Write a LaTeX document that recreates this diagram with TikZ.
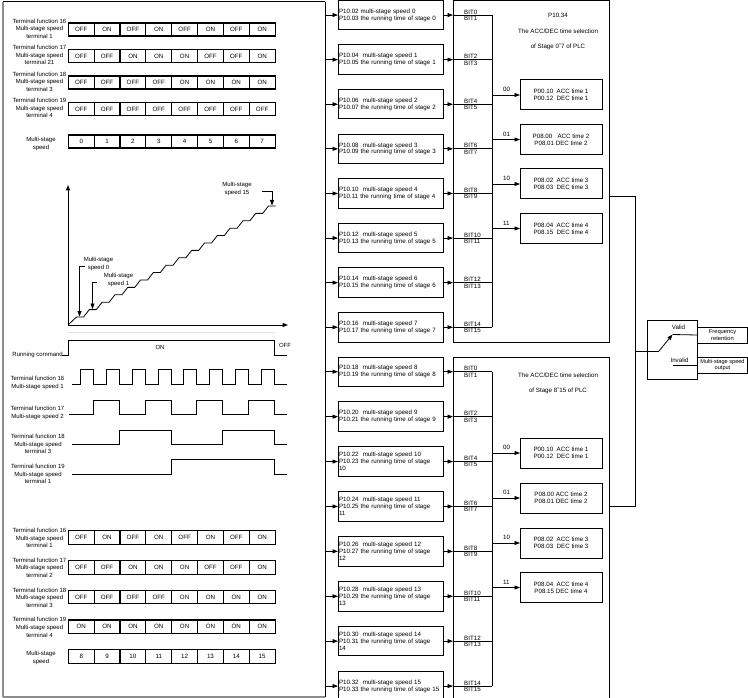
\documentclass[tikz,border=0pt]{standalone}
\usepackage{fontspec}
\setmainfont{Liberation Sans}
\usetikzlibrary{arrows.meta}
\newcommand\mytabrow[4][13pt]{\foreach \v [count=\j from 0] in {#4} {\node[cell,minimum height=#1] (#2-\j) at ({68.3+25.85*\j},#3) {\v};}}
\begin{document}
\begin{tikzpicture}[x=1pt,y=-1pt,
  font=\fontsize{6.2}{6.9}\selectfont,
  >={Triangle[length=5.5pt,width=4pt]},
  wire/.style={line width=0.8pt},
  cell/.style={draw,line width=1.1pt,minimum width=25.85pt,inner sep=0pt,outer sep=0pt,anchor=north west},
  lab/.style={align=center,inner sep=0pt,font=\fontsize{6}{7.6}\selectfont},
  pbox/.style={draw,line width=1pt,minimum height=29.5pt,text width=103pt,inner xsep=1pt,inner ysep=0pt,outer sep=0pt,align=left,anchor=north west},
  abox/.style={draw,line width=1pt,minimum width=82pt,minimum height=30pt,align=center,inner sep=0pt,outer sep=0pt,anchor=north west},
  bigbox/.style={draw,line width=1pt,inner sep=0pt,outer sep=0pt,anchor=north west},
  txt/.style={inner sep=0pt},
  frame/.style={draw=black!45,line width=1.2pt},
]
\useasboundingbox (0,0) rectangle (748,698);

% ---------- frame of left panel and bus ----------
\coordinate (fa) at (3,697);
\coordinate (fb) at (3,2);
\coordinate (fc) at (325,2);
\coordinate (fd) at (325,697);
\draw[frame] (fa) -- (fb);
\draw[frame] (fa) -- (fd);
\draw[line width=1pt] (fb) -- (fc);
\draw[line width=1pt] (fc) -- (fd);
\coordinate (busx) at (325,0);
\coordinate (gx) at (453,0);
\coordinate (hx) at (492,0);
\coordinate (bx) at (464,0);
\coordinate (lx) at (503,0);

% ---------- top table ----------
\mytabrow{ta}{23}{OFF,ON,OFF,ON,OFF,ON,OFF,ON}
\mytabrow{tb}{49.5}{OFF,OFF,ON,ON,ON,OFF,OFF,ON}
\mytabrow{tc}{76}{OFF,OFF,OFF,OFF,ON,ON,ON,ON}
\mytabrow{td}{102.5}{OFF,OFF,OFF,OFF,OFF,OFF,OFF,OFF}
\mytabrow{te}{135}{0,1,2,3,4,5,6,7}
\node[lab] (la) at (39.5,28.5) {Terminal function 16\\Multi-stage speed\\terminal 1};
\node[lab] (lb) at (39.5,55) {Terminal function 17\\Multi-stage speed\\terminal 21};
\node[lab] (lc) at (39.5,81.5) {Terminal function 18\\Multi-stage speed\\terminal 3};
\node[lab] (ld) at (39.5,108) {Terminal function 19\\Multi-stage speed\\terminal 4};
\node[lab] (le) at (41,144) {Multi-stage\\speed};

% ---------- staircase ----------
\coordinate (org) at (68,325);
\coordinate (ytop) at (68,185);
\coordinate (xend) at (288,325);
\draw[line width=1pt,->] (org) -- (ytop);
\draw[line width=1pt,->] (org) -- (xend);
\draw[black!12,line width=0.8pt] (68,332) -- (275,332);
\draw[line width=0.8pt] (org) \foreach \k in {0,...,15} { -- ({76.5+12.8*\k},{317-7.4*\k}) -- ({83.5+12.8*\k},{317-7.4*\k}) };
\node[lab] (s15) at (237,189) {Multi-stage\\speed 15};
\coordinate (s15a) at (262,191);
\coordinate (s15b) at (272,191);
\coordinate (s15c) at (272,205.5);
\draw[wire,->] (s15a) -- (s15b) -- (s15c);
\node[lab] (s0) at (98.5,264) {Multi-stage\\speed 0};
\coordinate (s0a) at (84.5,266);
\coordinate (s0b) at (79.5,266);
\coordinate (s0c) at (79.5,316.5);
\draw[wire,->] (s0a) -- (s0b) -- (s0c);
\node[lab] (s1) at (118.5,280) {Multi-stage\\speed 1};
\coordinate (s1a) at (97,282);
\coordinate (s1b) at (92.5,282);
\coordinate (s1c) at (92.5,309);
\draw[wire,->] (s1a) -- (s1b) -- (s1c);

% ---------- timing diagram ----------
\node[lab,anchor=east] (rc) at (63,354.5) {Running command};
\draw[wire] (62,355) -- (68,355) -- (68,340) -- (274,340) -- (274,355) -- (287,355);
\node[lab] (on) at (160,347) {ON};
\node[lab] (off) at (285,345) {OFF};

\node[lab] (t16) at (37.5,383) {Terminal function 16\\Multi-stage speed 1};
\draw[wire] (72,384) \foreach \k in {1,3,...,15} { -- ({68+12.875*\k},384) -- ({68+12.875*\k},369.5) -- ({68+12.875*(\k+1)},369.5) -- ({68+12.875*(\k+1)},384) } -- (287,384);
\node[lab] (t17) at (37.5,413) {Terminal function 17\\Multi-stage speed 2};
\draw[wire] (69,414) \foreach \k in {2,6,10,14} { -- ({68+12.875*\k},414) -- ({68+12.875*\k},400) -- ({68+12.875*(\k+2)},400) -- ({68+12.875*(\k+2)},414) } -- (287,414);
\node[lab] (t18) at (38,444) {Terminal function 18\\Multi-stage speed\\terminal 3};
\draw[wire] (72,444.5) \foreach \k in {4,12} { -- ({68+12.875*\k},444.5) -- ({68+12.875*\k},430) -- ({68+12.875*(\k+4)},430) -- ({68+12.875*(\k+4)},444.5) } -- (287,444.5);
\node[lab] (t19) at (38,474) {Terminal function 19\\Multi-stage speed\\terminal 1};
\draw[wire] (72,474.5) -- (171,474.5) -- (171,459.5) -- (274,459.5) -- (274,474.5) -- (287,474.5);

% ---------- bottom table ----------
\mytabrow[13.7pt]{ba}{530.7}{OFF,ON,OFF,ON,OFF,ON,OFF,ON}
\mytabrow[13.7pt]{bb}{560.5}{OFF,OFF,ON,ON,ON,OFF,OFF,ON}
\mytabrow[13.7pt]{bc}{590.2}{OFF,OFF,OFF,OFF,ON,ON,ON,ON}
\mytabrow[13.7pt]{bd}{620}{ON,ON,ON,ON,ON,ON,ON,ON}
\mytabrow[14pt]{be}{649.6}{8,9,10,11,12,13,14,15}
\node[lab] (lba) at (39.5,538) {Terminal function 16\\Multi-stage speed\\terminal 1};
\node[lab] (lbb) at (39.5,567.8) {Terminal function 17\\Multi-stage speed\\terminal 2};
\node[lab] (lbc) at (39.5,597.5) {Terminal function 18\\Multi-stage speed\\terminal 3};
\node[lab] (lbd) at (39.5,627.3) {Terminal function 19\\Multi-stage speed\\terminal 4};
\node[lab] (lbe) at (41,658) {Multi-stage\\speed};

% ---------- middle parameter boxes ----------
\node[pbox] (m0) at (338,0.3) {P10.02 multi-stage speed 0\\P10.03 the running time of stage 0};
\node[pbox] (m1) at (338,44.9) {P10.04\ \ multi-stage speed 1\\P10.05 the running time of stage 1};
\node[pbox] (m2) at (338,89.5) {P10.06\ \ multi-stage speed 2\\P10.07 the running time of stage 2};
\node[pbox] (m3) at (338,134.1) {P10.08\ \ multi-stage speed 3\\P10.09 the running time of stage 3};
\node[pbox] (m4) at (338,178.7) {P10.10\ \ multi-stage speed 4\\P10.11 the running time of stage 4};
\node[pbox] (m5) at (338,223.3) {P10.12\ \ multi-stage speed 5\\P10.13 the running time of stage 5};
\node[pbox] (m6) at (338,267.9) {P10.14\ \ multi-stage speed 6\\P10.15 the running time of stage 6};
\node[pbox] (m7) at (338,312.5) {P10.16\ \ multi-stage speed 7\\P10.17 the running time of stage 7};
\node[pbox] (m8) at (338,357) {P10.18\ \ multi-stage speed 8\\P10.19 the running time of stage 8};
\node[pbox] (m9) at (338,401.9) {P10.20\ \ multi-stage speed 9\\P10.21 the running time of stage 9};
\node[pbox] (m10) at (338,446.8) {P10.22\ \ multi-stage speed 10\\P10.23 the running time of stage\\10};
\node[pbox] (m11) at (338,491.7) {P10.24\ \ multi-stage speed 11\\P10.25 the running time of stage\\11};
\node[pbox] (m12) at (338,536.6) {P10.26\ \ multi-stage speed 12\\P10.27 the running time of stage\\12};
\node[pbox] (m13) at (338,581.5) {P10.28\ \ multi-stage speed 13\\P10.29 the running time of stage\\13};
\node[pbox] (m14) at (338,626.4) {P10.30\ \ multi-stage speed 14\\P10.31 the running time of stage\\14};
\node[pbox] (m15) at (338,671.3) {P10.32\ \ multi-stage speed 15\\P10.33 the running time of stage 15};

\foreach \k in {0,...,15} {
  \draw[wire,->] (m\k.west -| busx) -- (m\k.west);
  \draw[wire,->] (m\k.east) -- (m\k.east -| gx);
  \draw[wire] (m\k.east -| gx) -- (m\k.east -| hx);
  \pgfmathtruncatemacro\hi{2*mod(\k,8)}
  \pgfmathtruncatemacro\lo{2*mod(\k,8)+1}
  \node[txt,anchor=west,yshift=3pt] (bu\k) at (m\k.east -| bx) {BIT\hi};
  \node[txt,anchor=west,yshift=-3.3pt] (bl\k) at (m\k.east -| bx) {BIT\lo};
}
\draw[wire] (m0.east -| hx) -- (m7.east -| hx);
\draw[wire] (m8.east -| hx) -- (m15.east -| hx);

% ---------- big selection boxes ----------
\node[bigbox,minimum width=156pt,minimum height=341pt] (G1) at (453,1) {};
\node[bigbox,minimum width=156pt,minimum height=346pt] (G2) at (453,357) {};
\node[txt] (g1a) at (558,15) {P10.34};
\node[txt] (g1b) at (558,31) {The ACC/DEC time selection};
\node[txt] (g1c) at (558,47) {of Stage 0˜7 of PLC};
\node[txt] (g2b) at (558,375) {The ACC/DEC time selection};
\node[txt] (g2c) at (558,390.5) {of Stage 8˜15 of PLC};

\node[abox] (a1) at (520,80) {P00.10\ \ ACC time 1\\P00.12\ \ DEC time 1};
\node[abox] (a2) at (520,124.5) {P08.00\ \ \ ACC time 2\\P08.01 DEC time 2};
\node[abox] (a3) at (520,169) {P08.02\ \ ACC time 3\\P08.03\ \ DEC time 3};
\node[abox] (a4) at (520,213.5) {P08.04\ \ ACC time 4\\P08.15\ \ DEC time 4};
\node[abox] (a5) at (520,438) {P00.10\ \ ACC time 1\\P00.12\ \ DEC time 1};
\node[abox] (a6) at (520,483) {P08.00 ACC time 2\\P08.01 DEC time 2};
\node[abox] (a7) at (520,528) {P08.02\ \ ACC time 3\\P08.03\ \ DEC time 3};
\node[abox] (a8) at (520,572.5) {P08.04\ \ ACC time 4\\P08.15 DEC time 4};
\foreach \k/\c in {1/00,2/01,3/10,4/11,5/00,6/01,7/10,8/11} {
  \draw[wire,->] (a\k.west -| hx) -- (a\k.west);
  \node[txt,anchor=west,yshift=5.5pt] (c\k) at (a\k.west -| lx) {\c};
}

% ---------- switch ----------
\coordinate (o1) at (609,196);
\coordinate (o2) at (609,506);
\coordinate (j1) at (635,196);
\coordinate (j2) at (635,506);
\coordinate (j3) at (635,351);
\coordinate (pv) at (659,351);
\coordinate (at) at (672.5,334.5);
\coordinate (iv) at (673,365);
\draw[wire] (o1) -- (j1) -- (j2) -- (o2);
\node[bigbox,minimum width=50pt,minimum height=59pt] (SW) at (647,320) {};
\draw[wire] (j3) -- (pv);
\draw[wire,->] (pv) -- (at);
\node[txt] (vl) at (678.5,327) {Valid};
\node[txt] (il) at (679.5,360) {Invalid};
\node[bigbox,minimum width=50pt,minimum height=16pt,align=center,font=\fontsize{5.8}{6.6}\selectfont] (FR) at (697.5,327) {Frequency\\retention};
\node[bigbox,minimum width=50pt,minimum height=16pt,align=center,font=\fontsize{5.6}{6.6}\selectfont] (MS) at (697.5,357) {Multi-stage speed\\output};
\draw[wire] (at) -- (FR.west);
\draw[wire] (iv) -- (MS.west);
\end{tikzpicture}
\end{document}
